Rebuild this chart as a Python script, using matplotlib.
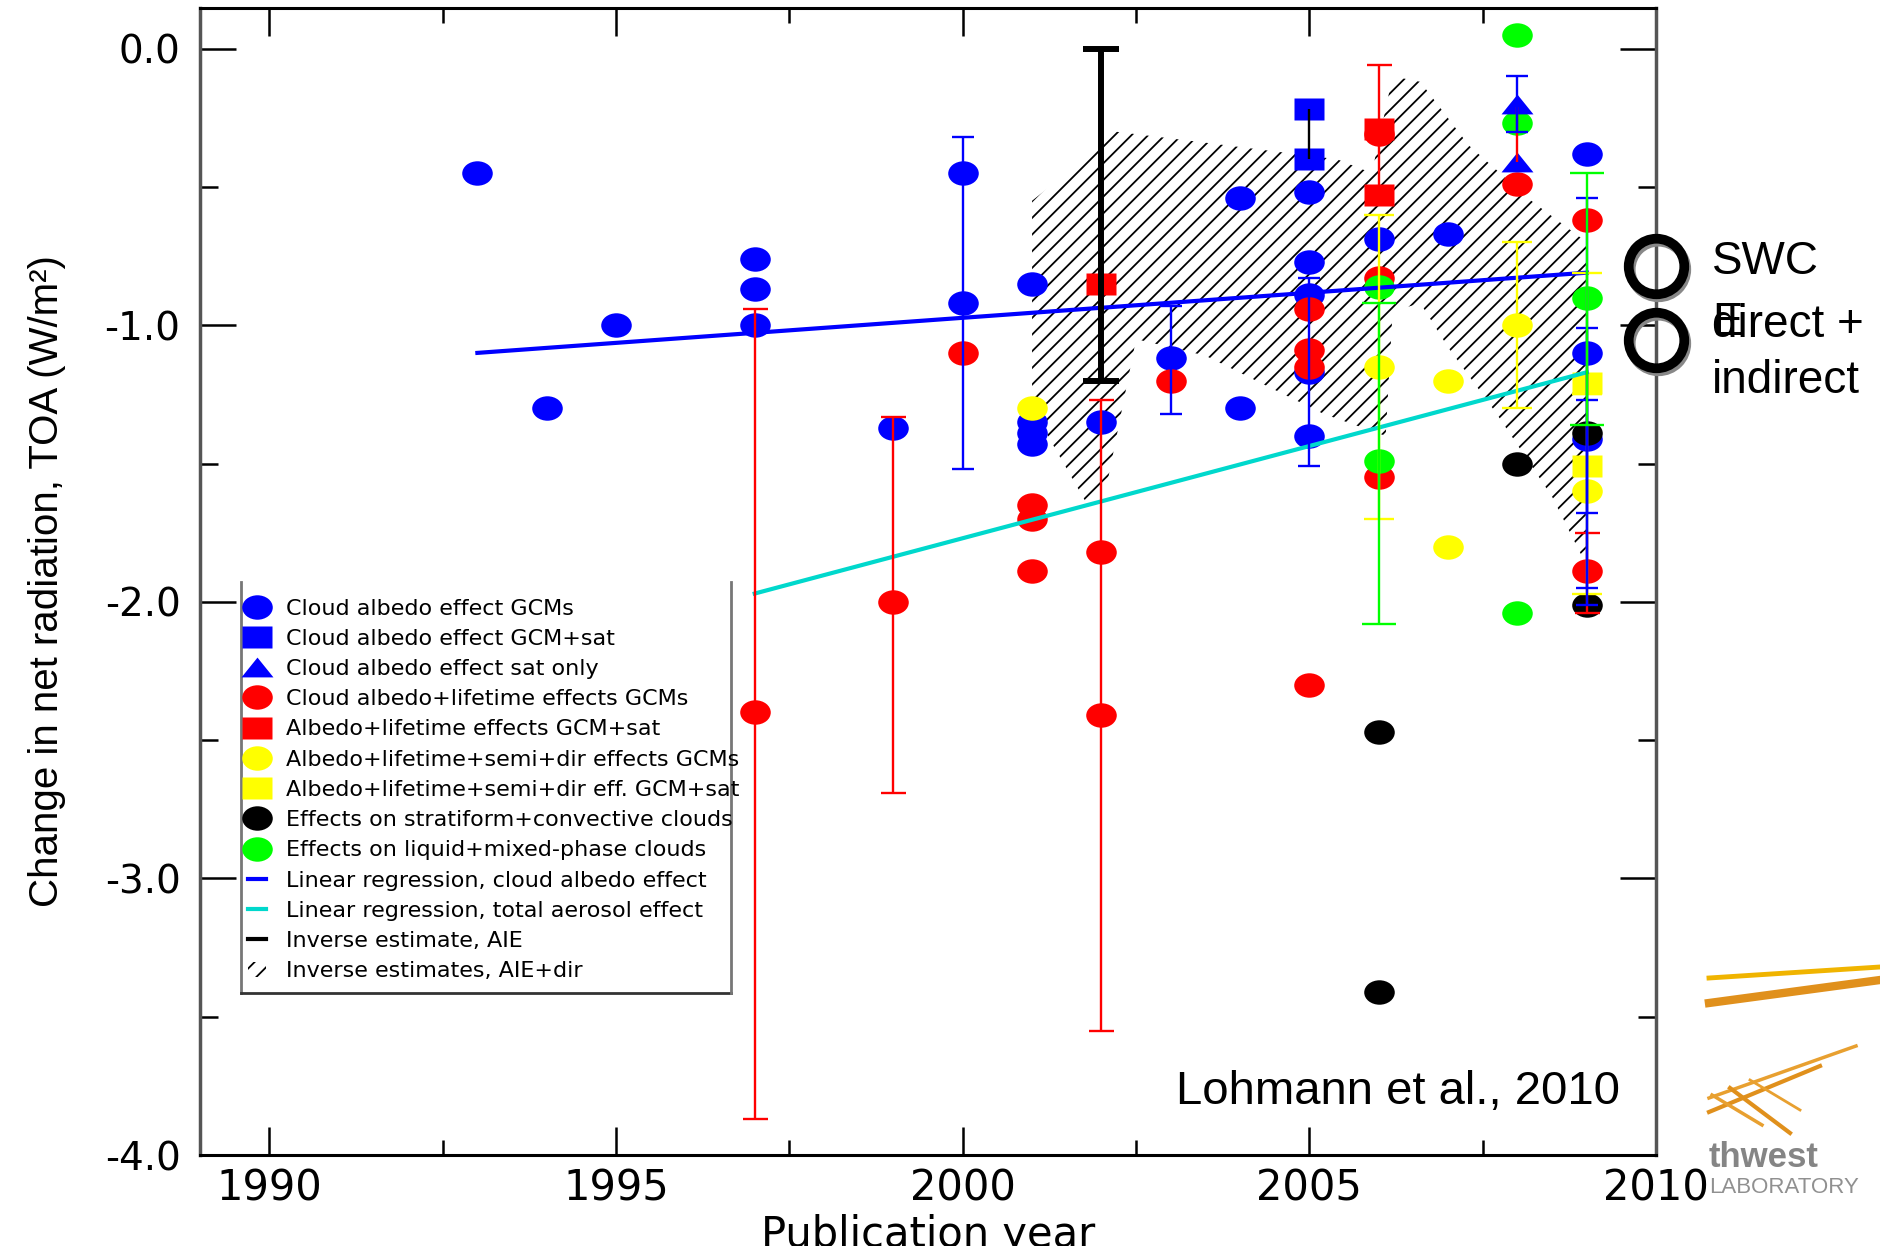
import matplotlib
matplotlib.use("Agg")
import matplotlib.pyplot as plt
from matplotlib.path import Path
from matplotlib.lines import Line2D
from matplotlib.patches import Patch
import numpy as np

# --- data (Lohmann et al., 2010) ---
blue_circ_x = [1993, 1994, 1995, 1997, 1997, 1997, 1999, 2000, 2000, 2001, 2001, 2001, 2001,
               2002, 2003, 2004, 2004, 2005, 2005, 2005, 2005, 2005, 2006, 2007, 2009, 2009, 2009]
blue_circ_y = [-0.45, -1.30, -1.00, -0.76, -0.87, -1.00, -1.37, -0.45, -0.92, -0.85, -1.35, -1.39, -1.43,
               -1.35, -1.12, -0.54, -1.30, -0.52, -0.77, -0.89, -1.17, -1.40, -0.69, -0.67, -0.38, -1.10, -1.41]
blue_sq_x = [2005, 2005]
blue_sq_y = [-0.22, -0.40]
blue_tri_x = [2008, 2008]
blue_tri_y = [-0.20, -0.41]
red_circ_x = [1997, 1999, 2000, 2001, 2001, 2001, 2002, 2002, 2003, 2005, 2005, 2005, 2005,
              2006, 2006, 2006, 2008, 2009, 2009]
red_circ_y = [-2.40, -2.00, -1.10, -1.65, -1.70, -1.89, -1.82, -2.41, -1.20, -0.94, -1.09, -1.15, -2.30,
              -0.31, -0.83, -1.55, -0.49, -0.62, -1.89]
red_sq_x = [2002, 2006, 2006]
red_sq_y = [-0.85, -0.29, -0.53]
yel_circ_x = [2001, 2006, 2007, 2007, 2008, 2009]
yel_circ_y = [-1.30, -1.15, -1.20, -1.80, -1.00, -1.60]
yel_sq_x = [2009, 2009]
yel_sq_y = [-1.21, -1.51]
blk_circ_x = [2006, 2006, 2008, 2009, 2009]
blk_circ_y = [-2.47, -3.41, -1.50, -1.39, -2.01]
grn_circ_x = [2006, 2006, 2008, 2008, 2008, 2009]
grn_circ_y = [-0.86, -1.49, 0.05, -0.27, -2.04, -0.90]

# error bars: x, low, high
red_err_x = [1997, 1999, 2002, 2006, 2009]
red_err_lo = [-3.87, -2.69, -3.55, -0.53, -2.04]
red_err_hi = [-0.94, -1.33, -1.27, -0.06, -1.75]
blue_err_x = [2000, 2003, 2005, 2008, 2009, 2009, 2009]
blue_err_lo = [-1.52, -1.32, -1.51, -0.30, -1.68, -1.95, -2.01]
blue_err_hi = [-0.32, -0.93, -0.83, -0.10, -0.54, -1.01, -1.27]
yel_err_x = [2006, 2008, 2009, 2009]
yel_err_lo = [-1.70, -1.30, -1.25, -1.97]
yel_err_hi = [-0.60, -0.70, -0.81, -1.25]
grn_err_x = [2006, 2009]
grn_err_lo = [-2.08, -1.36]
grn_err_hi = [-0.92, -0.45]
aie_x = [2002]
aie_lo = [-1.20]
aie_hi = [0.0]
link_x = [2005, 2008]          # caps-free connecting bars (black, red)
link_lo = [-0.40, -0.41]
link_hi = [-0.22, -0.21]

# regression lines
reg_blue_x = [1993, 2009]
reg_blue_y = [-1.10, -0.81]
reg_cyan_x = [1997, 2009]
reg_cyan_y = [-1.97, -1.17]

# inverse estimates AIE+dir envelope
hatch_x = [2001.0, 2001.5, 2002.2, 2003.5, 2005.4, 2005.9, 2006.2, 2006.6, 2007.3, 2008.2, 2009.0,
           2009.0, 2008.5, 2007.7, 2007.0, 2006.6, 2006.2, 2006.1, 2005.2, 2003.5, 2002.5, 2002.1,
           2001.8, 2001.0]
hatch_y = [-0.55, -0.45, -0.30, -0.34, -0.40, -0.45, -0.10, -0.12, -0.35, -0.55, -0.70,
           -1.87, -1.62, -1.32, -1.08, -0.92, -0.95, -1.40, -1.32, -1.11, -1.05, -1.55,
           -1.65, -1.30]

legend_labels = ["Cloud albedo effect GCMs", "Cloud albedo effect GCM+sat", "Cloud albedo effect sat only",
                 "Cloud albedo+lifetime effects GCMs", "Albedo+lifetime effects GCM+sat",
                 "Albedo+lifetime+semi+dir effects GCMs", "Albedo+lifetime+semi+dir eff. GCM+sat",
                 "Effects on stratiform+convective clouds", "Effects on liquid+mixed-phase clouds",
                 "Linear regression, cloud albedo effect", "Linear regression, total aerosol effect",
                 "Inverse estimate, AIE", "Inverse estimates, AIE+dir"]

ring_y = [-0.785, -1.053]

plt.rcParams["hatch.linewidth"] = 1.3

BLUE, RED, YEL, GRN, CYAN = "#0000ff", "#ff0000", "#ffff00", "#00ff00", "#00d8cc"

# the original is stretched sideways, so markers are a bit wider than tall
_c = Path.unit_circle()
circ_m = Path(_c.vertices * [1.0, 0.8], _c.codes)
sq_m = Path([(-1, -0.78), (1, -0.78), (1, 0.78), (-1, 0.78), (-1, -0.78)], closed=True)
tri_m = Path([(-1, -0.62), (1, -0.62), (0, 0.62), (-1, -0.62)], closed=True)

fig = plt.figure(figsize=(18.8, 12.46), dpi=100)
ax = fig.add_axes([0.1064, 0.0730, 0.7745, 0.9206])
ax.set_xlim(1989, 2010)
ax.set_ylim(-4.0, 0.147)

ax.fill(hatch_x, hatch_y, facecolor="none", edgecolor="black", linewidth=0, hatch="//", zorder=1)

def pts(x, y, m, ms, c):
    ax.plot(x, y, ls="none", marker=m, ms=ms, mfc=c, mec="none", zorder=3)

pts(blue_circ_x, blue_circ_y, circ_m, 22, BLUE)
pts(blue_sq_x, blue_sq_y, sq_m, 21, BLUE)
pts(red_circ_x, red_circ_y, circ_m, 22, RED)
pts(red_sq_x, red_sq_y, sq_m, 21, RED)
pts(yel_circ_x, yel_circ_y, circ_m, 22, YEL)
pts(yel_sq_x, yel_sq_y, sq_m, 21, YEL)
pts(blk_circ_x, blk_circ_y, circ_m, 22, "black")
pts(grn_circ_x, grn_circ_y, circ_m, 22, GRN)
pts(blue_tri_x, blue_tri_y, tri_m, 23, BLUE)

ax.plot(reg_blue_x, reg_blue_y, color=BLUE, lw=3, zorder=4)
ax.plot(reg_cyan_x, reg_cyan_y, color=CYAN, lw=3, zorder=4)

def ebar(x, lo, hi, c, cap, lw=1.7, z=5):
    lo, hi = np.array(lo), np.array(hi)
    ax.errorbar(x, (lo + hi) / 2, yerr=(hi - lo) / 2, fmt="none", ecolor=c,
                elinewidth=lw, capsize=cap, capthick=lw, zorder=z)

ebar(red_err_x, red_err_lo, red_err_hi, RED, 9)
ebar(yel_err_x, yel_err_lo, yel_err_hi, YEL, 11)
ebar(blue_err_x, blue_err_lo, blue_err_hi, BLUE, 8, z=6)
ebar(grn_err_x, grn_err_lo, grn_err_hi, GRN, 12, z=7)
ebar(aie_x, aie_lo, aie_hi, "black", 13, lw=4.3)
ax.vlines(link_x, link_lo, link_hi, colors=["black", RED], lw=1.7, zorder=5)

# axes styling
for s in ["left", "right"]:
    ax.spines[s].set_color("#555555")
    ax.spines[s].set_linewidth(2.5)
for s in ["top", "bottom"]:
    ax.spines[s].set_color("black")
    ax.spines[s].set_linewidth(2.2)

ax.set_xticks([1990, 1995, 2000, 2005, 2010])
ax.set_xticks([1992.5, 1997.5, 2002.5, 2007.5], minor=True)
ax.set_yticks([-4, -3, -2, -1, 0])
ax.set_yticklabels(["-4.0", "-3.0", "-2.0", "-1.0", "0.0"])
ax.set_yticks([-3.5, -2.5, -1.5, -0.5], minor=True)
ax.tick_params(axis="both", which="both", direction="in", top=True, right=True, width=1.8, colors="black")
ax.tick_params(axis="x", which="major", length=20, labelsize=30, pad=9)
ax.tick_params(axis="x", which="minor", length=11)
ax.tick_params(axis="y", which="major", length=26, labelsize=28, pad=14)
ax.tick_params(axis="y", which="minor", length=13)

ax.set_xlabel("Publication year", fontsize=30, labelpad=3)
ax.set_ylabel("Change in net radiation, TOA (W/m²)", fontsize=29, family="Liberation Sans")
ax.yaxis.set_label_coords(-0.092, 0.5)

# legend
hl = [Line2D([], [], ls="none", marker=circ_m, ms=22, mfc=BLUE, mec="none"),
      Line2D([], [], ls="none", marker=sq_m, ms=21, mfc=BLUE, mec="none"),
      Line2D([], [], ls="none", marker=tri_m, ms=23, mfc=BLUE, mec="none"),
      Line2D([], [], ls="none", marker=circ_m, ms=22, mfc=RED, mec="none"),
      Line2D([], [], ls="none", marker=sq_m, ms=21, mfc=RED, mec="none"),
      Line2D([], [], ls="none", marker=circ_m, ms=22, mfc=YEL, mec="none"),
      Line2D([], [], ls="none", marker=sq_m, ms=21, mfc=YEL, mec="none"),
      Line2D([], [], ls="none", marker=circ_m, ms=22, mfc="black", mec="none"),
      Line2D([], [], ls="none", marker=circ_m, ms=22, mfc=GRN, mec="none"),
      Line2D([], [], color=BLUE, lw=3),
      Line2D([], [], color=CYAN, lw=3),
      Line2D([], [], color="black", lw=3),
      Patch(facecolor="white", edgecolor="black", lw=0, hatch="//")]
leg = ax.legend(hl, legend_labels, loc="upper left", bbox_to_anchor=(0.030, 0.489),
                frameon=False, fontsize=16, handlelength=0.8, handletextpad=0.9,
                labelspacing=0.46, borderpad=0.2, borderaxespad=0)
leg.set_zorder(8)
fx0, fx1, fy0, fy1 = 0.0282, 0.3647, 0.1412, 0.4996
ax.plot([fx0, fx0], [fy1, fy0], transform=ax.transAxes, color="#777777", lw=2, zorder=8, clip_on=False)
ax.plot([fx0, fx1], [fy0, fy0], transform=ax.transAxes, color="#333333", lw=2, zorder=8, clip_on=False)
ax.plot([fx1, fx1], [fy0, fy1], transform=ax.transAxes, color="#777777", lw=2, zorder=8, clip_on=False)

ax.text(0.975, 0.0445, "Lohmann et al., 2010", transform=ax.transAxes, ha="right", va="baseline",
        fontsize=34, family="Liberation Sans")

# right-hand annotation rings and text
ax.plot([2010.03] * 2, [v - 0.012 for v in ring_y], ls="none", marker="o", ms=40, mfc="none",
        mec="#888888", mew=7, clip_on=False, zorder=9)
ax.plot([2010, 2010], ring_y, ls="none", marker="o", ms=40, mfc="none", mec="black", mew=7,
        clip_on=False, zorder=10)
fig.text(1712 / 1880, 1 - 274 / 1246, "SWC", fontsize=33, family="Liberation Sans", va="baseline")
fig.text(1712 / 1880, 1 - 335 / 1246, "E", fontsize=33, family="Liberation Sans", va="baseline")
fig.text(1712 / 1880, 1 - 337 / 1246, "direct +", fontsize=33, family="Liberation Sans", va="baseline")
fig.text(1712 / 1880, 1 - 393 / 1246, "indirect", fontsize=33, family="Liberation Sans", va="baseline")

# partial logo at the bottom right corner
def fl(x0, y0, x1, y1, c, w):
    fig.add_artist(Line2D([x0 / 1880, x1 / 1880], [1 - y0 / 1246, 1 - y1 / 1246], color=c, lw=w))

fl(1709, 978, 1880, 967, "#f0b400", 3.5)
fl(1709, 1003, 1880, 980, "#e0901c", 6)
fl(1709, 1098, 1856, 1046, "#e8a030", 2.5)
fl(1709, 1112, 1820, 1066, "#e0901c", 3)
fl(1730, 1088, 1790, 1133, "#e0901c", 3)
fl(1712, 1095, 1762, 1125, "#e8a030", 2.5)
fl(1750, 1080, 1800, 1110, "#e8a030", 2)
fig.text(1709 / 1880, 1 - 1167 / 1246, "thwest", fontsize=25, fontweight="bold",
         family="Liberation Sans", color="#858585", va="baseline")
fig.text(1709 / 1880, 1 - 1193 / 1246, "LABORATORY", fontsize=16,
         family="Liberation Sans", color="#909090", va="baseline")

fig.savefig("out.png", dpi=100)
